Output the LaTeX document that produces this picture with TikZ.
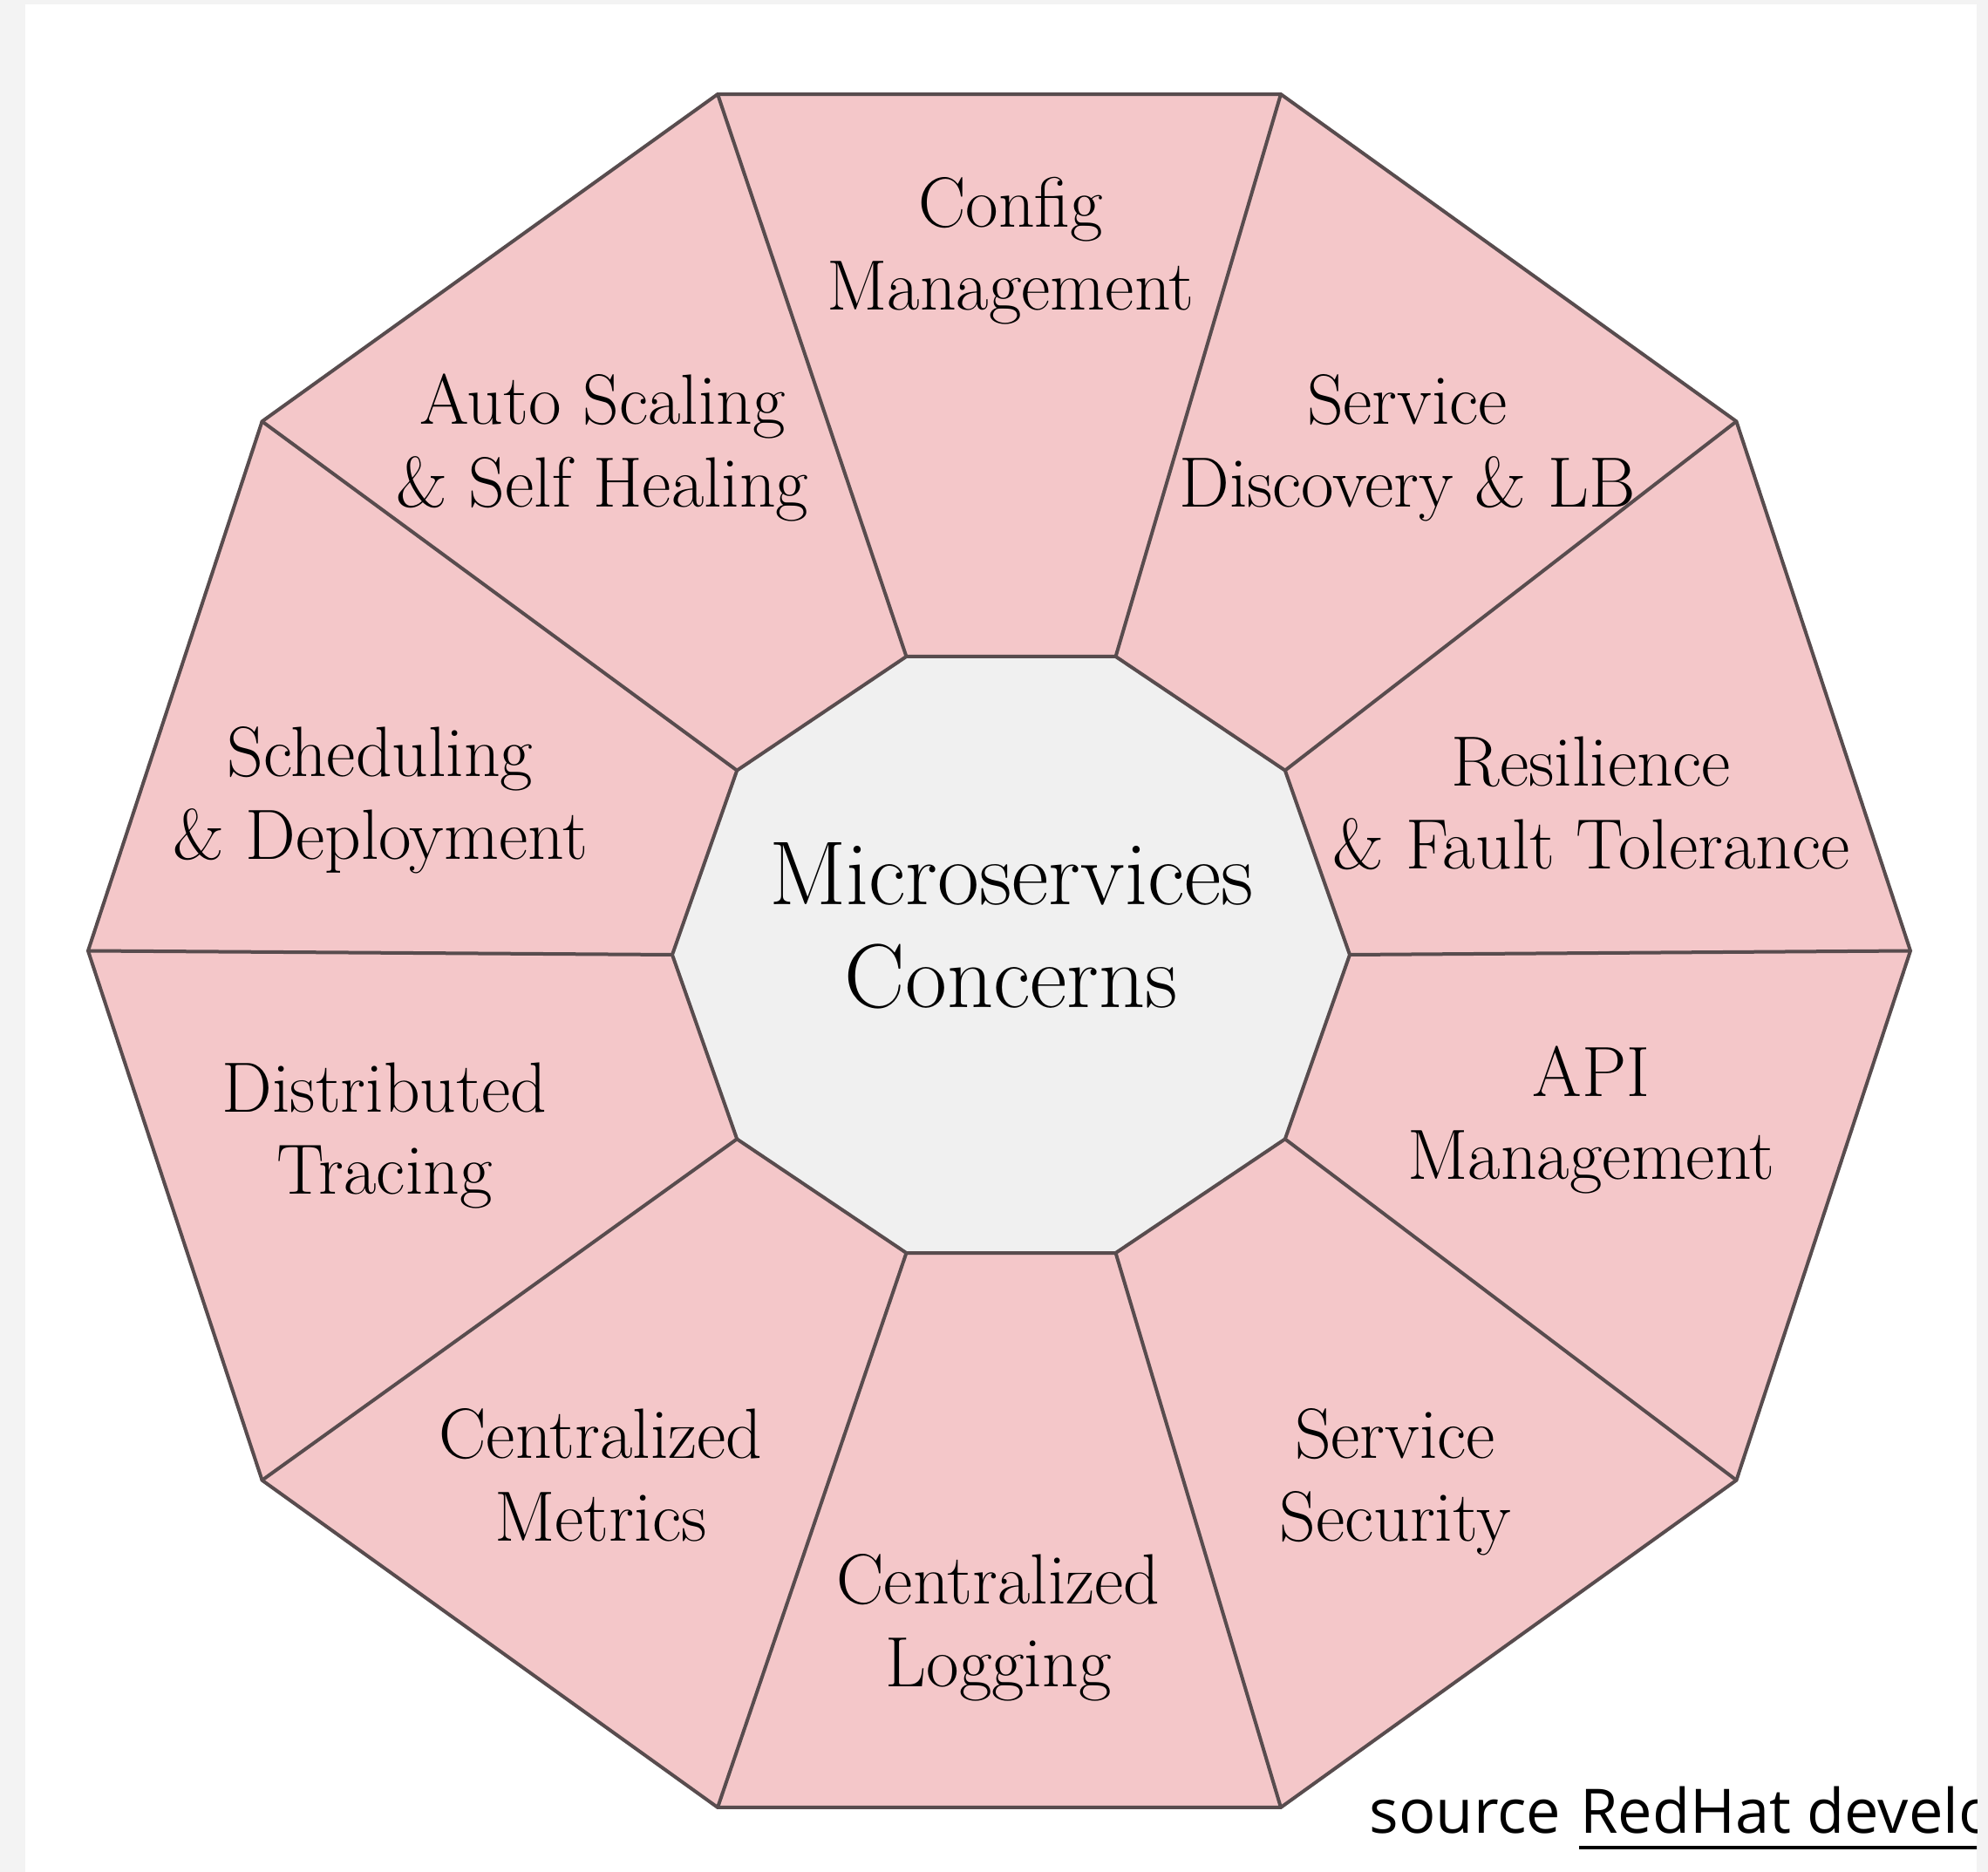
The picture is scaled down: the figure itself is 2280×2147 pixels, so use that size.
\documentclass[tikz,border=0pt]{standalone}
\usepackage{fontspec}
\newfontfamily\srcfont{Open Sans}
\usetikzlibrary{positioning}
\definecolor{petal}{RGB}{244,199,201}
\definecolor{hubgrey}{RGB}{240,240,240}
\definecolor{rimgrey}{RGB}{88,76,78}
\definecolor{framegrey}{RGB}{243,243,243}

\begin{document}
\begin{tikzpicture}[x=0.25pt, y=-0.25pt,
  rim/.style={draw=rimgrey, line width=1pt},
  concern/.style={font=\fontsize{20.4}{23.75}\selectfont, align=center, anchor=base, inner sep=0pt},
  hubtext/.style={font=\fontsize{26}{29.5}\selectfont, align=center, anchor=base, inner sep=0pt},
  srctext/.style={font=\srcfont\fontsize{17.6}{21}\selectfont, inner sep=0pt}]
\useasboundingbox (0,0) rectangle (2280,2147);
\fill[framegrey] (0,0) rectangle (2280,2147);
\fill[white] (29,5) rectangle (2267,2147);
% corners of the two decagons
\foreach \k in {0,...,9} {
  \coordinate (o\k) at ({1146+1045*cos(36*\k)}, {1090.5-1033*sin(36*\k)});
  \coordinate (i\k) at ({1159.5+388.5*cos(36*\k)}, {1095-359.6*sin(36*\k)});
}
\draw[rim, fill=petal] (o0) \foreach \k in {1,...,9} { -- (o\k) } -- cycle;
\draw[rim, fill=hubgrey] (i0) \foreach \k in {1,...,9} { -- (i\k) } -- cycle;
\foreach \k in {0,...,9}
  \draw[rim] (o\k) -- (i\k);
% the ten concerns (placed at the baseline of their last line)
\node[concern] (config) at (1159,356) {Config\\Management};
\node[concern] (discovery) at (1614,582) {Service\\Discovery \& LB};
\node[concern] (resilience) at (1825,997) {Resilience\\\& Fault Tolerance};
\node[concern] (api) at (1825,1352) {API\\Management};
\node[concern] (security) at (1600,1767) {Service\\Security};
\node[concern] (logging) at (1145,1934) {Centralized\\Logging};
\node[concern] (metrics) at (689,1767) {Centralized\\Metrics};
\node[concern] (tracing) at (441,1370) {Distributed\\Tracing};
\node[concern] (scheduling) at (436,986) {Scheduling\\\& Deployment};
\node[concern] (scaling) at (691,582) {Auto Scaling\\\& Self Healing};
\node[hubtext] (hubtitle) at (1160,1156) {Microservices\\Concerns};
% source line, cut at the panel edge
\begin{scope}
\clip (29,5) rectangle (2267,2147);
\node[srctext, anchor=base west] (src) at (1570,2102) {source};
\node[srctext, base right=5pt of src] (redhat) {RedHat develo};
\draw[line width=0.9pt] ([yshift=-4.3pt]redhat.base west) -- ([yshift=-4.3pt]redhat.base east);
\end{scope}
\end{tikzpicture}
\end{document}
